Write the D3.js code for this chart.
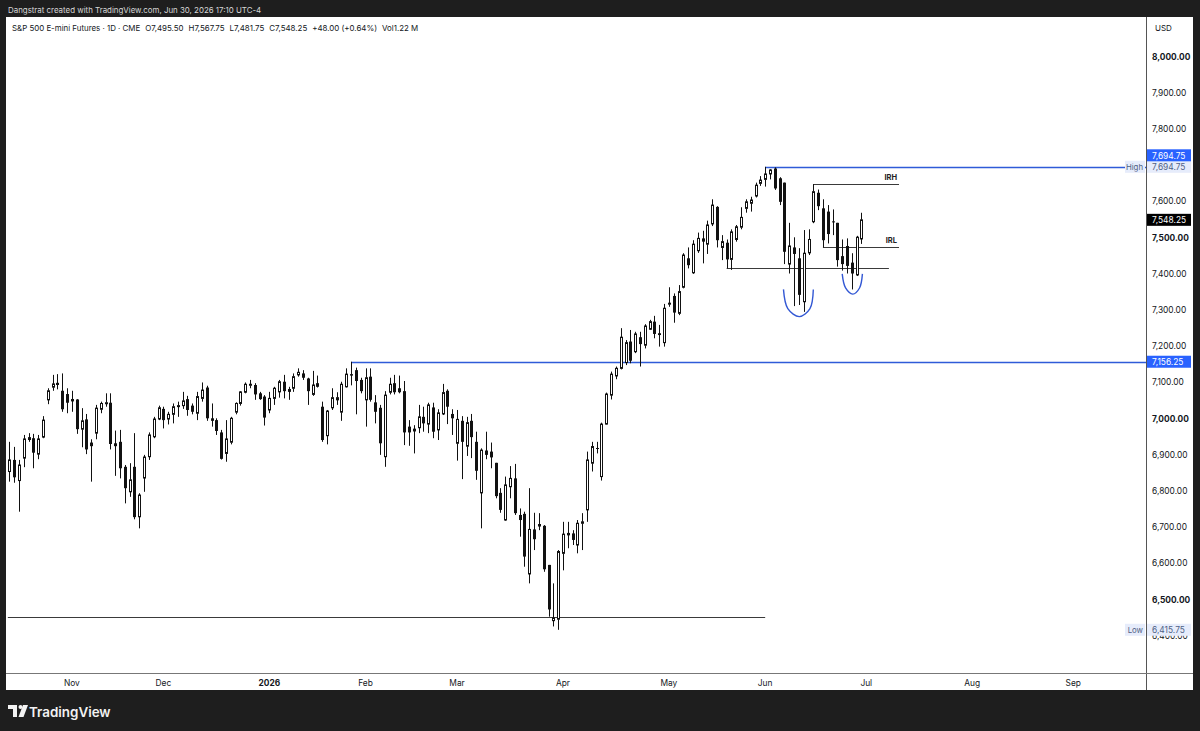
<!DOCTYPE html>
<html lang="en">
<head>
<meta charset="UTF-8">
<title>S&P 500 E-mini Futures 1D</title>
<script src="https://d3js.org/d3.v7.min.js"></script>
<style>
  body { margin: 0; background: #1e1e1e; overflow: hidden; }
  svg text { font-family: Inter, "Liberation Sans", Arial, sans-serif; }
</style>
</head>
<body>
<div id="chart"></div>
<script>
// daily bars, Oct 15 2025 -> Jun 30 2026
const opens = [6853,6885,6828,6890,6948,6945,6901,6948,7051,7086,7098,7076,7067,7048,7052,6970,6997,6933,6959,7025,
  7041,7043,6931,6935,6866,6797,6866,6728,6835,6894,6949,6998,7026,6998,7011,7034,7035,7053,7035,7014,
  7055,7085,7000,6995,6961,6903,6934,7017,7041,7072,7093,7092,7069,7060,7023,7055,7073,7101,7081,7083,
  7120,7124,7110,7066,7097,7032,6952,7029,7051,7017,7087,7122,7133,7106,7051,7115,7044,7029,6894,7072,
  7097,7083,7075,6977,6965,6974,7004,6984,7030,6968,7012,7076,7012,6931,6993,6923,6993,6935,6794,6911,
  6908,6877,6794,6719,6811,6834,6733,6736,6570,6693,6708,6703,6595,6441,6445,6627,6678,6682,6650,6710,
  6747,6876,6918,6839,6984,7064,7117,7138,7154,7212,7184,7224,7202,7246,7267,7235,7209,7316,7338,7290,
  7362,7442,7402,7463,7497,7481,7537,7584,7472,7485,7439,7494,7528,7580,7594,7614,7649,7660,7675,7690,
  7663,7651,7426,7472,7442,7322,7457,7543,7623,7580,7571,7544,7540,7448,7476,7430,7396,7495.5];
const highs = [6935,6921,6885,6954,6959,6957,6954,7006,7083,7120,7122,7124,7083,7076,7053,7028,7012,6942,7037,7046,
  7069,7069,6966,6968,6871,6876,6959,6793,6899,6961,7004,7035,7032,7018,7041,7046,7073,7062,7041,7073,
  7099,7090,7041,7000,6968,6995,7004,7044,7075,7099,7106,7097,7073,7064,7073,7087,7106,7120,7087,7124,
  7138,7133,7112,7131,7118,7046,7023,7083,7072,7101,7138,7156.25,7140,7112,7138,7138,7064,7037,7075,7112,
  7120,7118,7103,6995,6981,7037,7032,7043,7043,7025,7095,7080,7025,7023,7006,7004,7012,6963,6917,6963,
  6933,6877,6807,6839,6868,6874,6751,6742,6807,6739,6738,6705,6595,6544,6636,6714,6714,6691,6719,6738,
  6908,6935,6935,6988,7071,7129,7143,7249,7216,7244,7239,7239,7260,7272,7283,7258,7316,7362,7345,7368,
  7456,7472,7492,7513,7518,7546,7605,7586,7506,7494,7522,7534,7583,7605,7612,7651,7669,7694.75,7688,7693,
  7666,7651,7540,7500,7470,7520,7522,7647,7632,7605,7589,7577,7540,7494,7497,7456,7504,7567.75];
const lows = [6825,6822,6742,6865,6935,6862,6887,6945,7039,7076,7080,7018,7014,7018,6957,6920,6901,6825,6942,7014,
  7032,6914,6841,6834,6765,6783,6721,6696,6797,6885,6945,6995,6972,6983,6986,7004,7026,7007,7011,6995,
  7046,6993,6977,6954,6886,6880,6928,7011,7035,7069,7083,7051,7051,6980,7014,7037,7057,7055,7051,7073,
  7115,7106,7037,7062,7085,6935,6928,7023,7037,6993,7085,7091,7011,7069,6977,7046,6986,6899,6866,7066,
  7066,7069,6926,6924,6903,6959,6963,6959,6945,6940,7009,6984,6954,6883,6832,6896,6890,6830,6696,6887,
  6862,6779,6739,6717,6779,6733,6673,6590,6544,6636,6691,6576,6452,6425,6415.75,6580,6641,6650,6627,6636,
  6714,6853,6903,6828,6983,7052,7108,7135,7147,7152,7180,7143,7193,7244,7221,7198,7198,7308,7264,7285,
  7359,7414,7399,7457,7428,7454,7531,7472,7437,7414,7410,7488,7522,7568,7571,7610,7642,7640,7660,7631,
  7589,7426,7400,7310,7313,7294,7451,7539,7575,7472,7483,7506,7419,7408,7400,7356,7393,7481.75];
const closes = [6885,6837,6871,6943,6940,6905,6943,6995,7076,7095,7092,7025,7043,7052,6970,6993,6914,6923,7028,7041,
  7043,6929,6923,6862,6807,6830,6727,6788,6893,6954,6998,7029,6995,7011,7032,7035,7048,7023,7018,7060,
  7078,7000,6993,6965,6888,6943,7000,7041,7073,7094,7094,7066,7053,7002,7055,7083,7101,7075,7073,7115,
  7127,7112,7075,7092,7087,6940,7020,7057,7057,7094,7122,7118,7103,7075,7112,7051,7018,6931,7064,7094,
  7072,7072,6961,6961,6970,7004,6986,7037,6963,7015,7071,7032,7000,6997,6935,6988,6948,6855,6912,6899,
  6892,6785,6747,6816,6834,6738,6719,6618,6693,6666,6701,6583,6472,6448,6632,6680,6682,6664,6710,6714,
  6885,6922,6917,6984,7067,7122,7138,7224,7209,7159,7233,7205,7255,7267,7233,7230,7304,7318,7292,7350,
  7451,7423,7481,7497,7488,7534,7589,7492,7488,7439,7515,7529,7555,7598,7603,7644,7658,7675,7686,7635,
  7598,7460,7476,7454,7341,7456,7494,7626,7586,7492,7509,7542,7437,7426,7421,7400,7500.25,7548.25];

// CME days with no daily bar
const holidays = ["2025-11-27","2025-12-25","2026-01-01","2026-01-19","2026-02-16","2026-05-25","2026-06-19","2026-07-03"];
const priceTicks = [8000,7900,7800,7600,7500,7400,7300,7200,7100,7000,6900,6800,6700,6600,6500,6400];

// drawn lines: bar index + price
const grayLines = [
  {from: -0.3, to: 157, price: 6452},
  {from: 149, to: 182.7, price: 7416},
  {from: 167, to: 184.8, price: 7647, label: "IRH"},
  {from: 169, to: 184.8, price: 7472, label: "IRL"}
];
const blueRays = [{from: 157, price: 7694.75}, {from: 71, price: 7156.25}];
const arcs = [
  [[160.8,7356],[161.7,7303],[164.1,7281],[166.3,7303],[167,7356]],
  [[173,7399],[173.7,7360],[175.2,7343],[176.6,7360],[177.2,7399]]
];

const W = 1200, H = 731;
const plot = {left: 6, right: 1146, top: 17, bottom: 673};

// trading days, extended past the last bar so the axis runs into the future
const fmtDay = d3.utcFormat("%Y-%m-%d");
const days = d3.utcDays(new Date(Date.UTC(2025, 9, 15)), new Date(Date.UTC(2026, 9, 1)))
  .filter(d => d.getUTCDay() > 0 && d.getUTCDay() < 6 && !holidays.includes(fmtDay(d)));

const x = d3.scaleLinear().domain([0, 236.1]).range([9.3, plot.right]);
const y = d3.scaleLinear().domain([7000, 8000]).range([418.3, 56.3]);

const svg = d3.select("#chart").append("svg").attr("width", W).attr("height", H);

svg.append("rect").attr("width", W).attr("height", H).attr("fill", "#1e1e1e");
svg.append("rect").attr("x", plot.left).attr("y", plot.top)
  .attr("width", 1193 - plot.left).attr("height", 690 - plot.top).attr("fill", "#fff");

svg.append("text").attr("x", 8).attr("y", 12.5).attr("font-size", 7.9).attr("fill", "#d6d6d6")
  .text("Dangstrat created with TradingView.com, Jun 30, 2026 17:10 UTC-4");

svg.append("defs").append("clipPath").attr("id", "clip").append("rect")
  .attr("x", plot.left).attr("y", plot.top)
  .attr("width", plot.right - plot.left).attr("height", plot.bottom - plot.top);

const g = svg.append("g").attr("clip-path", "url(#clip)");

// gray lines
g.selectAll(".gl").data(grayLines).join("line").attr("class", "gl")
  .attr("x1", d => x(d.from)).attr("x2", d => x(d.to))
  .attr("y1", d => Math.round(y(d.price)) + 0.5).attr("y2", d => Math.round(y(d.price)) + 0.5)
  .attr("stroke", "#3a3a3a").attr("stroke-width", 1);
g.selectAll(".gll").data(grayLines.filter(d => d.label)).join("text").attr("class", "gll")
  .attr("x", d => x(d.to) - 2).attr("y", d => y(d.price) - 4)
  .attr("text-anchor", "end").attr("font-size", 7.5).attr("font-weight", 700).attr("fill", "#222")
  .text(d => d.label);

// blue rays
g.selectAll(".br").data(blueRays).join("line").attr("class", "br")
  .attr("x1", d => x(d.from)).attr("x2", plot.right)
  .attr("y1", d => Math.round(y(d.price)) + 0.5).attr("y2", d => Math.round(y(d.price)) + 0.5)
  .attr("stroke", "#2f5bd8").attr("stroke-width", 1.3);

// candles
const idx = d3.range(closes.length);
const candle = g.selectAll(".c").data(idx).join("g").attr("class", "c");
candle.append("line")
  .attr("x1", i => Math.round(x(i)) + 0.5).attr("x2", i => Math.round(x(i)) + 0.5)
  .attr("y1", i => y(highs[i])).attr("y2", i => y(lows[i]))
  .attr("stroke", "#111").attr("stroke-width", 1);
candle.append("rect")
  .attr("x", i => closes[i] >= opens[i] ? Math.round(x(i)) - 0.5 : Math.round(x(i)) - 1)
  .attr("width", i => closes[i] >= opens[i] ? 2 : 3)
  .attr("y", i => y(Math.max(opens[i], closes[i])))
  .attr("height", i => Math.max(1, Math.abs(y(opens[i]) - y(closes[i]))))
  .attr("fill", i => closes[i] >= opens[i] ? "#fff" : "#111")
  .attr("stroke", i => closes[i] >= opens[i] ? "#111" : "none")
  .attr("stroke-width", 1);

// hand-drawn arcs
const arcLine = d3.line().x(d => x(d[0])).y(d => y(d[1])).curve(d3.curveCatmullRom.alpha(0.5));
g.selectAll(".arc").data(arcs).join("path").attr("class", "arc")
  .attr("d", arcLine).attr("fill", "none").attr("stroke", "#3358d4").attr("stroke-width", 1.4);

// legend
const legend = svg.append("text").attr("x", 12).attr("y", 30.5).attr("font-size", 7.9).attr("fill", "#131722");
const legendParts = ["S&P 500 E-mini Futures · 1D · CME", "O7,495.50", "H7,567.75", "L7,481.75",
  "C7,548.25", "+48.00 (+0.64%)", "Vol1.22 M"];
legendParts.forEach((t, k) => legend.append("tspan").attr("dx", k ? 5 : 0).text(t));

// price axis
svg.append("line").attr("x1", plot.right + 0.5).attr("x2", plot.right + 0.5)
  .attr("y1", plot.top).attr("y2", 690).attr("stroke", "#555");
svg.append("line").attr("x1", plot.left).attr("x2", 1193)
  .attr("y1", plot.bottom + 0.5).attr("y2", plot.bottom + 0.5).attr("stroke", "#777");
svg.append("text").attr("x", 1155).attr("y", 31).attr("font-size", 8).attr("fill", "#131722").text("USD");

const fmtP = d3.format(",.2f");
svg.selectAll(".pt").data(priceTicks).join("text").attr("class", "pt")
  .attr("x", 1152).attr("y", d => y(d) + 3.2)
  .attr("font-size", 8.4).attr("font-weight", d => d % 500 === 0 ? 700 : 400)
  .attr("fill", "#131722").text(fmtP);

function axisTag(price, dy, fill, color, tag) {
  const yy = y(price) + dy;
  svg.append("rect").attr("x", plot.right + 1).attr("y", yy - 6).attr("width", 44).attr("height", 12).attr("fill", fill);
  svg.append("text").attr("x", 1152).attr("y", yy + 3.2).attr("font-size", 8.4).attr("fill", color).text(fmtP(price));
  if (tag) {
    svg.append("rect").attr("x", plot.right - 21).attr("y", yy - 6).attr("width", 20).attr("height", 12).attr("fill", fill);
    svg.append("text").attr("x", plot.right - 3).attr("y", yy + 3).attr("text-anchor", "end")
      .attr("font-size", 7.8).attr("fill", color).text(tag);
  }
}
axisTag(highs[157], 0, "#e6ecfb", "#4f5f85", "High");
axisTag(highs[157], -11.5, "#2962ff", "#fff");
axisTag(closes[closes.length - 1], 0, "#000", "#fff");
axisTag(blueRays[1].price, 0, "#2962ff", "#fff");
axisTag(lows[114], 0, "#e6ecfb", "#4f5f85", "Low");

// time axis
const months = days.map((d, i) => ({d, i})).filter((o, k, a) => k > 0 && o.d.getUTCMonth() !== a[k - 1].d.getUTCMonth());
svg.selectAll(".mt").data(months).join("text").attr("class", "mt")
  .attr("x", o => x(o.i)).attr("y", 686).attr("text-anchor", "middle")
  .attr("font-size", 8.4).attr("font-weight", o => o.d.getUTCMonth() === 0 ? 700 : 400)
  .attr("fill", "#131722")
  .text(o => o.d.getUTCMonth() === 0 ? d3.utcFormat("%Y")(o.d) : d3.utcFormat("%b")(o.d));

// TradingView mark
const logo = svg.append("g").attr("fill", "#f2f2f2");
logo.append("path").attr("d", "M8,705h9v12h-4v-8h-5z");
logo.append("circle").attr("cx", 20.5).attr("cy", 707).attr("r", 2);
logo.append("path").attr("d", "M23,705h5l-4.5,12h-5z");
logo.append("text").attr("x", 29).attr("y", 716.5).attr("font-size", 13.4).attr("font-weight", 600).text("TradingView");
</script>
</body>
</html>
